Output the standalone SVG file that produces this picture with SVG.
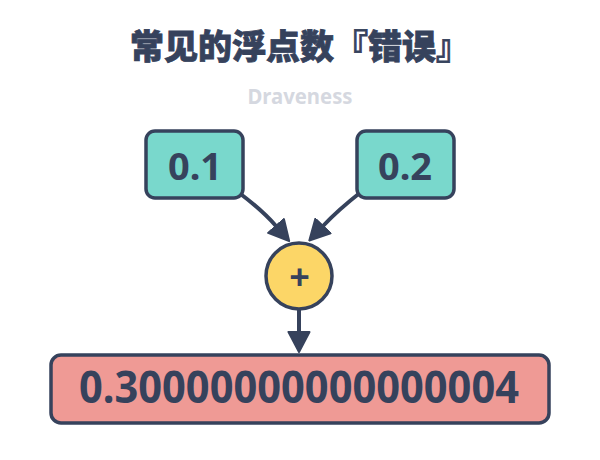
<svg xmlns="http://www.w3.org/2000/svg" width="600" height="460" viewBox="0 0 600 460">
<style>
.t{font-family:"Noto Sans","Open Sans","Noto Sans CJK SC",sans-serif;font-weight:700;fill:#36425c;text-anchor:middle}
.box{stroke:#36425c;stroke-width:3.5}
.edge{fill:none;stroke:#36425c;stroke-width:4}
</style>
<defs>
<marker id="ah" viewBox="0 0 22 24" refX="1" refY="12" markerWidth="22" markerHeight="24" markerUnits="userSpaceOnUse" orient="auto">
<path d="M1,1.5 L21,12 L1,22.5 Z" fill="#36425c" stroke="#36425c" stroke-width="2" stroke-linejoin="round"/>
</marker>
</defs>
<rect width="600" height="460" fill="#ffffff"/>
<text class="t" x="300" y="59" font-size="34" style="font-family:'Noto Sans CJK SC',sans-serif;font-weight:900;stroke:#36425c;stroke-width:0.8">常见的浮点数『错误』</text>
<text class="t" x="300" y="104" font-size="22" style="fill:#d5d8e0" textLength="105" lengthAdjust="spacingAndGlyphs">Draveness</text>
<g id="connectors">
<path class="edge" d="M238,192 Q262,210 276,226" marker-end="url(#ah)"/>
<path class="edge" d="M361,192 Q338,210 323,226" marker-end="url(#ah)"/>
<path class="edge" d="M299,309 L299,332" marker-end="url(#ah)"/>
</g>
<g id="node-a">
<rect class="box" x="146" y="131" width="97" height="67" rx="9" fill="#79d8cc"/>
<text class="t" x="195" y="180" font-size="38">0.1</text>
</g>
<g id="node-b">
<rect class="box" x="357" y="131" width="97" height="67" rx="9" fill="#79d8cc"/>
<text class="t" x="405" y="180" font-size="38">0.2</text>
</g>
<g id="node-plus">
<circle class="box" cx="299" cy="276" r="33" fill="#fcd667"/>
<text class="t" x="299.5" y="290" font-size="36">+</text>
</g>
<g id="node-result">
<rect class="box" x="51" y="355" width="498" height="68" rx="10" fill="#ef9a95"/>
<text class="t" x="299" y="403" font-size="44" textLength="440" lengthAdjust="spacingAndGlyphs">0.30000000000000004</text>
</g>
</svg>
